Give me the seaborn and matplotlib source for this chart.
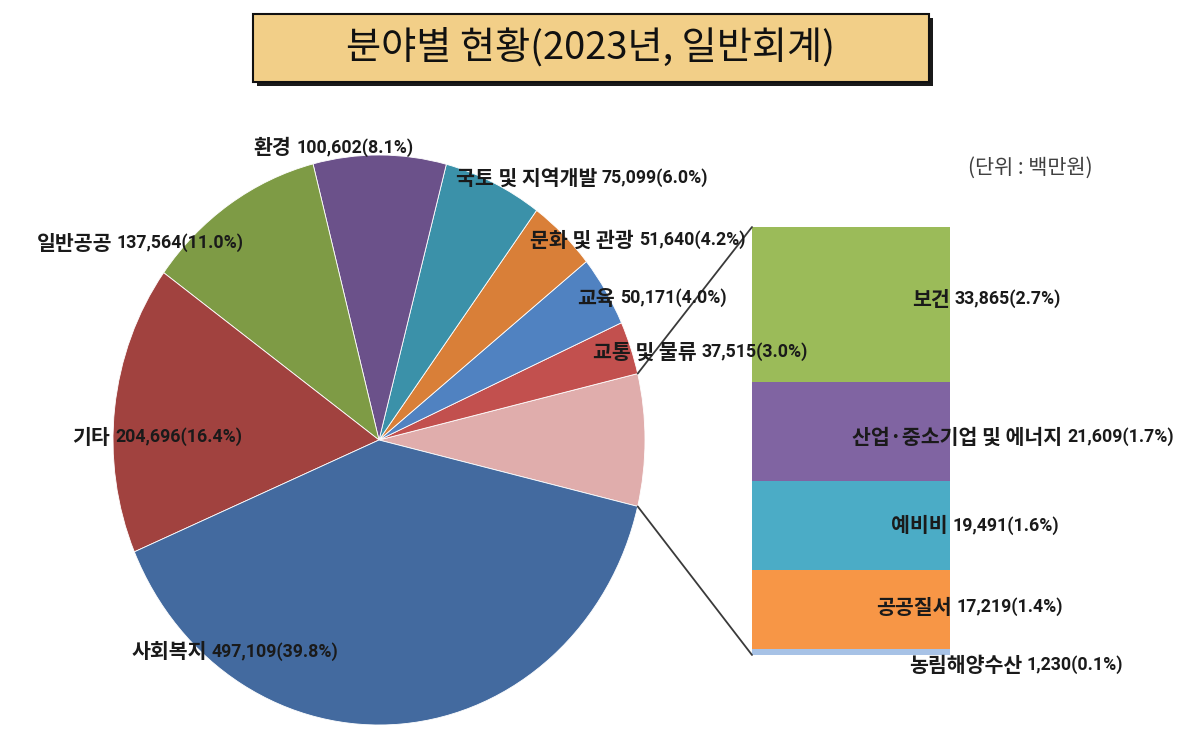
import matplotlib
matplotlib.use("Agg")
import matplotlib.pyplot as plt
from matplotlib.patches import Rectangle, ConnectionPatch
import seaborn as sns
import numpy as np

# ---------------- data ----------------
pie_names = ["기타(소계)", "교통 및 물류", "교육", "문화 및 관광", "국토 및 지역개발",
             "환경", "일반공공", "기타", "사회복지"]
pie_values = [93414, 37515, 50171, 51640, 75099, 100602, 137564, 204696, 497109]
pie_pcts = [7.5, 3.0, 4.0, 4.2, 6.0, 8.1, 11.0, 16.4, 39.8]

bar_names = ["농림해양수산", "공공질서", "예비비", "산업·중소기업 및 에너지", "보건"]
bar_values = [1230, 17219, 19491, 21609, 33865]
bar_pcts = [0.1, 1.4, 1.6, 1.7, 2.7]

title_text = "분야별 현황(2023년, 일반회계)"
unit_text = "(단위 : 백만원)"

# ---------------- styles / layout ----------------
pie_colors = ["#E0ADAC", "#C2504E", "#5082C1", "#D97F38", "#3B91A9",
              "#6B518A", "#7E9B45", "#A1423F", "#436A9F"]
bar_colors = ["#A7C2E6", "#F79646", "#4BACC6", "#8064A2", "#9BBB59"]

# label anchors in pixels (name right edge, vertical centre); None for unlabeled slice
pie_label_pos = [None, (697, 352), (615, 298), (634, 240), (597, 178),
                 (291, 148), (112, 243), (110, 437), (207, 652)]
bar_label_pos = [(1022, 665), (952, 607), (948, 526), (1062, 437), (950, 299)]

W, H = 1200, 733
sns.set_theme(style="white")
plt.rcParams["font.family"] = ["Noto Sans CJK KR", "DejaVu Sans"]

KFONT = ["Noto Sans CJK KR", "DejaVu Sans"]
NFONT = ["Roboto", "DejaVu Sans"]


def fx(x):
    return x / W


def fy(y):
    return 1 - y / H


fig = plt.figure(figsize=(W / 100, H / 100), dpi=100)
fig.patch.set_facecolor("white")

# ---------------- title box ----------------
bx0, by0, bx1, by1 = 253, 14, 929, 82
shadow = Rectangle((fx(bx0 + 4), fy(by1 + 4)), (bx1 - bx0) / W, (by1 - by0) / H,
                   transform=fig.transFigure, facecolor="#1a1a1a", edgecolor="none", zorder=1)
box = Rectangle((fx(bx0), fy(by1)), (bx1 - bx0) / W, (by1 - by0) / H,
                transform=fig.transFigure, facecolor="#F2CF88", edgecolor="#111111",
                linewidth=1.5, zorder=2)
fig.add_artist(shadow)
fig.add_artist(box)
fig.text(fx((bx0 + bx1) / 2), fy((by0 + by1) / 2), title_text, ha="center", va="center",
         fontsize=27.5, family=KFONT, color="#111111", zorder=3)

# ---------------- pie ----------------
cx, cy, rx, ry = 379, 440, 266, 285
ax_pie = fig.add_axes([fx(cx - rx), fy(cy + ry), 2 * rx / W, 2 * ry / H])
total = sum(pie_values)
start = -pie_values[0] / total * 360 / 2
wedges, _ = ax_pie.pie(pie_values, colors=pie_colors, startangle=start, counterclock=True,
                       radius=1, wedgeprops=dict(edgecolor="white", linewidth=0.6))
ax_pie.set_aspect("auto")
ax_pie.set_xlim(-1, 1)
ax_pie.set_ylim(-1, 1)
ax_pie.axis("off")


def put_label(pos, name, value, pct):
    x, y = pos
    fig.text(fx(x), fy(y), name, ha="right", va="center", fontsize=14.8,
             fontweight="bold", family=KFONT, color="#1a1a1a")
    fig.text(fx(x + 5), fy(y), f"{value:,}({pct:.1f}%)", ha="left", va="center",
             fontsize=12.8, fontweight="bold", family=NFONT, color="#1a1a1a")


for pos, name, v, p in zip(pie_label_pos, pie_names, pie_values, pie_pcts):
    if pos is not None:
        put_label(pos, name, v, p)

# ---------------- bar of pie ----------------
bxl, bxr, byt, byb = 752, 950, 227, 655
ax_bar = fig.add_axes([fx(bxl), fy(byb), (bxr - bxl) / W, (byb - byt) / H])
bottom = 0
for v, c in zip(bar_values, bar_colors):
    ax_bar.bar(0, v, width=1.0, bottom=bottom, color=c, edgecolor="none")
    bottom += v
ax_bar.set_xlim(-0.5, 0.5)
ax_bar.set_ylim(0, sum(bar_values))
ax_bar.axis("off")

for pos, name, v, p in zip(bar_label_pos, bar_names, bar_values, bar_pcts):
    put_label(pos, name, v, p)

# connector lines
theta = np.deg2rad(pie_values[0] / total * 360 / 2)
for sgn, yb in [(1, sum(bar_values)), (-1, 0)]:
    con = ConnectionPatch(xyA=(np.cos(theta), sgn * np.sin(theta)), coordsA=ax_pie.transData,
                          xyB=(-0.5, yb), coordsB=ax_bar.transData,
                          color="#3a3a3a", linewidth=1.3)
    fig.add_artist(con)

# unit
fig.text(fx(1030), fy(168), unit_text, ha="center", va="center", fontsize=15,
         family=KFONT, color="#404040")

fig.savefig("out.png", dpi=100, facecolor="white")
